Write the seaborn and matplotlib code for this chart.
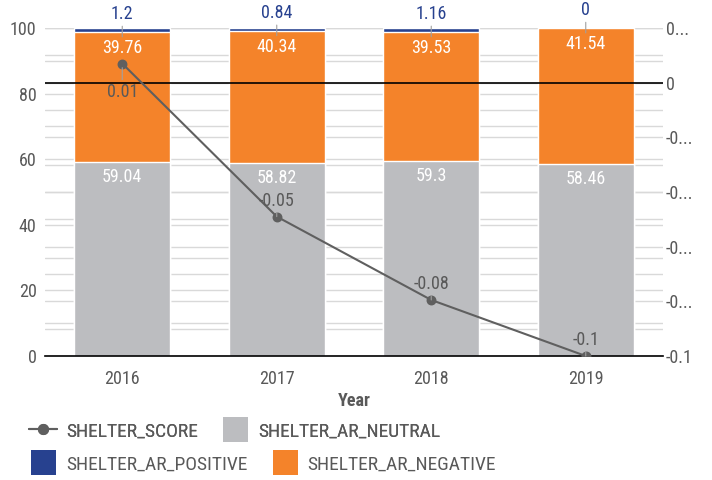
import numpy as np
import pandas as pd
import seaborn as sns
import matplotlib.pyplot as plt
from matplotlib import font_manager
from matplotlib.lines import Line2D

# data
years = ['2016', '2017', '2018', '2019']
neutral = [59.04, 58.82, 59.3, 58.46]
negative = [39.76, 40.34, 39.53, 41.54]
positive = [1.2, 0.84, 1.16, 0]
score = [0.007, -0.049, -0.0795, -0.1]
right_ticks = [-0.1, -0.08, -0.06, -0.04, -0.02, 0, 0.02]
right_tick_labels = ['-0.1', '-0...', '-0...', '-0...', '-0...', '0', '0...']

GREY = '#BCBDC0'
ORANGE = '#F4832A'
BLUE = '#27418F'
LINE = '#5F5F5F'
TXT = '#595959'
GRID = '#D9D9D9'

sns.set_theme(style='white')
names = {f.name for f in font_manager.fontManager.ttflist}
font = 'DejaVu Sans'
for cand in ['Roboto Condensed', 'Liberation Sans Narrow', 'Roboto']:
    if cand in names:
        font = cand
        break
plt.rcParams['font.family'] = [font, 'DejaVu Sans']
FS = 13
LFS = 14

df = pd.DataFrame({'Year': years, 'neutral': neutral, 'negative': negative, 'positive': positive})
df['top_neg'] = df['neutral'] + df['negative']
df['top_pos'] = df['top_neg'] + df['positive']

fig, ax = plt.subplots(figsize=(7.12, 4.8), dpi=100)
fig.subplots_adjust(left=45/712, right=663/712, bottom=124/480, top=452/480)

# stacked bars by layering cumulative totals
for col, c in [('top_pos', BLUE), ('top_neg', ORANGE), ('neutral', GREY)]:
    sns.barplot(data=df, x='Year', y=col, color=c, saturation=1, width=0.62,
                edgecolor='white', linewidth=1, ax=ax, zorder=2)

ax.set_ylim(0, 100)
ax.set_xlim(-0.5, 3.5)
ax.set_yticks(range(0, 101, 20))
ax.set_yticks(range(0, 101, 10), minor=True)
ax.grid(which='both', axis='y', color=GRID, lw=1, zorder=0)
ax.set_axisbelow(True)

# secondary-axis grid drawn behind bars on main axis
rlo, rhi = -0.1, 0.02
for v in np.arange(-0.1, 0.0201, 0.01):
    ax.axhline((v - rlo) / (rhi - rlo) * 100, color=GRID, lw=1, zorder=0)

for i, r in df.iterrows():
    ax.annotate(f"{r['positive']:g}", xy=(i, r['top_neg'] - 1.5), xytext=(0, 10),
                textcoords='offset points', ha='center', va='bottom', color=BLUE,
                fontsize=FS, annotation_clip=False,
                arrowprops=dict(arrowstyle='-', color='#A0A0A0', lw=0.8, shrinkA=0, shrinkB=0))
    ax.annotate(f"{r['negative']:g}", xy=(i, r['top_neg']), xytext=(0, -5),
                textcoords='offset points', ha='center', va='top', color='white', fontsize=FS)
    ax.annotate(f"{r['neutral']:g}", xy=(i, r['neutral']), xytext=(0, -4),
                textcoords='offset points', ha='center', va='top', color='white', fontsize=FS)

ax.set_xlabel('Year', fontsize=FS, fontweight='bold', color=TXT, labelpad=3)
ax.set_ylabel('')
ax.tick_params(axis='both', which='both', length=0, labelsize=FS, labelcolor=TXT)
ax.tick_params(axis='x', pad=10)
ax.tick_params(axis='y', pad=6)
for s in ['left', 'right', 'top']:
    ax.spines[s].set_visible(False)
ax.spines['bottom'].set_color('black')
ax.spines['bottom'].set_linewidth(1.2)

ax2 = ax.twinx()
ax2.set_ylim(rlo, rhi)
ax2.axhline(0, color='black', lw=1.2, zorder=1)
sns.pointplot(x=years, y=score, ax=ax2, color=LINE, markers='o', linestyles='-',
              markersize=6, linewidth=1.5, zorder=3)
ax.set_xlim(-0.5, 3.5)
ax2.set_yticks(right_ticks)
ax2.set_yticklabels(right_tick_labels)
ax2.tick_params(axis='y', which='both', length=0, labelsize=FS, labelcolor=TXT, pad=2)
ax2.set_ylabel('')
for s in ax2.spines.values():
    s.set_visible(False)

for i, v in enumerate(score):
    below = i == 0
    ax2.annotate(f'{round(v, 2):g}', xy=(i, v), xytext=(0, -14 if below else 5),
                 textcoords='offset points', ha='center', va='top' if below else 'bottom',
                 color=TXT, fontsize=FS, annotation_clip=False,
                 arrowprops=dict(arrowstyle='-', color='#A0A0A0', lw=0.8, shrinkA=0, shrinkB=3))


def square(c):
    return Line2D([], [], linestyle='none', marker='s', markersize=18,
                  markerfacecolor=c, markeredgewidth=0)


# legend laid out as two rows, like the reference
leg_kw = dict(loc='center left', ncol=2, frameon=False, fontsize=LFS, labelcolor=TXT,
              borderpad=0, borderaxespad=0, handlelength=1.45, handleheight=1.0,
              handletextpad=0.45, columnspacing=1.2)
h_score = Line2D([], [], color=LINE, marker='o', markersize=7, lw=1.5)
row1 = fig.legend([h_score, square(GREY)], ['SHELTER_SCORE', 'SHELTER_AR_NEUTRAL'],
                  bbox_to_anchor=(29/712, 1 - 431/480), **leg_kw)
fig.legend([square(BLUE), square(ORANGE)], ['SHELTER_AR_POSITIVE', 'SHELTER_AR_NEGATIVE'],
           bbox_to_anchor=(29/712, 1 - 464/480), **leg_kw)
fig.add_artist(row1)

fig.savefig('out.png', dpi=100)
